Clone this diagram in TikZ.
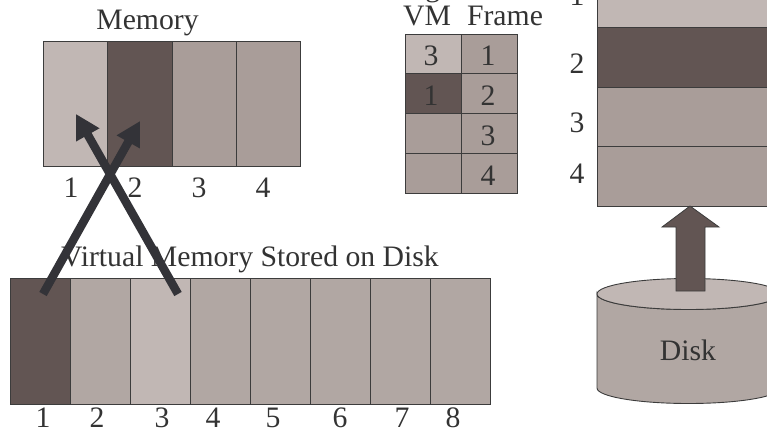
\documentclass[tikz,border=0pt]{standalone}
\usepackage{fontspec}
\setmainfont{Liberation Serif}
\usetikzlibrary{arrows.meta}
\definecolor{lt}{HTML}{C1B7B4}
\definecolor{dk}{HTML}{625553}
\definecolor{md}{HTML}{A99D99}
\definecolor{vm}{HTML}{B1A7A3}
\definecolor{ln}{HTML}{3C3C3C}
\definecolor{tx}{HTML}{333333}
\definecolor{ar}{HTML}{333338}
\begin{document}
\begin{tikzpicture}[x=1pt,y=-1pt,
  cell/.style={draw=ln, line width=0.9pt},
  lbl/.style={font=\fontsize{29.7}{30}\selectfont, text=tx, anchor=base, inner sep=0pt},
  bigarrow/.style={draw=ar, line width=8.5pt, -{Triangle[length=24pt,width=25pt]}}]
\useasboundingbox (0,0) rectangle (767,434);

% ---- Memory ----
\path[cell, fill=lt] (43,41) rectangle (107,166);
\path[cell, fill=dk] (107,41) rectangle (172,166);
\path[cell, fill=md] (172,41) rectangle (236,166);
\path[cell, fill=md] (236,41) rectangle (300,166);
\node[lbl] (memt) at (147.5,29) {Memory};
\node[lbl] (ml1) at (71,197) {1};
\node[lbl] (ml2) at (135,197) {2};
\node[lbl] (ml3) at (199,197) {3};
\node[lbl] (ml4) at (263,197) {4};

% ---- Virtual memory ----
\path[cell, fill=dk] (10,278) rectangle (70,404);
\path[cell, fill=vm] (70,278) rectangle (130,404);
\path[cell, fill=lt] (130,278) rectangle (190,404);
\path[cell, fill=vm] (190,278) rectangle (250,404);
\path[cell, fill=vm] (250,278) rectangle (310,404);
\path[cell, fill=vm] (310,278) rectangle (370,404);
\path[cell, fill=vm] (370,278) rectangle (430,404);
\path[cell, fill=vm] (430,278) rectangle (490,404);
\node[lbl] (vmt) at (250,266) {Virtual Memory Stored on Disk};
\node[lbl] (v1) at (43,427) {1};
\node[lbl] (v2) at (97,427) {2};
\node[lbl] (v3) at (162,427) {3};
\node[lbl] (v4) at (213,427) {4};
\node[lbl] (v5) at (273,427) {5};
\node[lbl] (v6) at (340,427) {6};
\node[lbl] (v7) at (402,427) {7};
\node[lbl] (v8) at (453,427) {8};

% ---- Page table ----
\node[lbl] (ptt) at (461,-4) {Page Table};
\node[lbl] (pvm) at (427,25) {VM};
\node[lbl] (pfr) at (505,25) {Frame};
\path[cell, fill=lt] (405,34) rectangle (461,73);
\path[cell, fill=md] (461,34) rectangle (517,73);
\path[cell, fill=dk] (405,73) rectangle (461,113);
\path[cell, fill=md] (461,73) rectangle (517,113);
\path[cell, fill=md] (405,113) rectangle (461,153);
\path[cell, fill=md] (461,113) rectangle (517,153);
\path[cell, fill=md] (405,153) rectangle (461,193);
\path[cell, fill=md] (461,153) rectangle (517,193);
\node[lbl] (p11) at (431,65) {3};
\node[lbl] (p12) at (488,65) {1};
\node[lbl] (p21) at (431,105) {1};
\node[lbl] (p22) at (488,105) {2};
\node[lbl] (p32) at (488,145) {3};
\node[lbl] (p42) at (488,185) {4};

% ---- Physical memory (right) ----
\path[cell, fill=lt] (597,-40) rectangle (790,27);
\path[cell, fill=dk] (597,27) rectangle (790,87);
\path[cell, fill=md] (597,87) rectangle (790,146);
\path[cell, fill=md] (597,146) rectangle (790,206);
\node[lbl] (r1) at (577,5) {1};
\node[lbl] (r2) at (577,73) {2};
\node[lbl] (r3) at (577,132) {3};
\node[lbl] (r4) at (577,183) {4};
\coordinate (physbot) at (690,206);

% ---- Disk ----
\path[cell, fill=vm] (597,294) -- (597,388)
  arc[start angle=180, end angle=0, x radius=91.5, y radius=15.5]
  -- (780,294)
  arc[start angle=0, end angle=180, x radius=91.5, y radius=15.5] -- cycle;
\path[cell, fill=lt] (688.5,294) ellipse[x radius=91.5, y radius=15.5];
\node[lbl] (disk) at (688,360) {Disk};

% ---- block arrow disk -> memory ----
\path[draw=ln, line width=0.8pt, fill=dk]
  (676,291) -- (676,227) -- (662,227) -- (physbot) -- (719,227) -- (705,227) -- (705,291) -- cycle;

% ---- crossing arrows ----
\coordinate (vm1t) at (43,294);
\coordinate (m2h) at (140,121);
\coordinate (vm3t) at (178,294);
\coordinate (m1h) at (76,114);
\draw[bigarrow] (vm1t) -- (m2h);
\draw[bigarrow] (vm3t) -- (m1h);
\end{tikzpicture}
\end{document}
